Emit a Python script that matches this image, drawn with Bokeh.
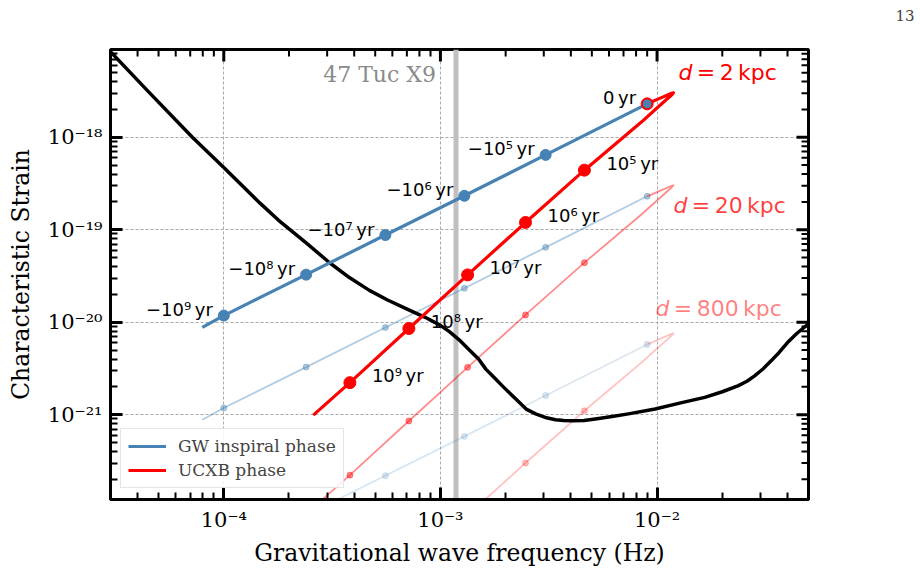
import numpy as np
from bokeh.plotting import figure
from bokeh.models import FixedTicker, CustomJSTickFormatter, Legend, LegendItem, Span
from bokeh.core.properties import value
from bokeh.embed import file_html
from bokeh.resources import INLINE

# ---------------------------------------------------------------------------
# Data
# ---------------------------------------------------------------------------
# Detector sensitivity curve: characteristic strain vs GW frequency (Hz)
sens_freq = [2.8e-5, 3.0e-5, 4.5e-5, 7.16e-5, 1.0e-4, 1.47e-4, 1.78e-4, 2.4e-4,
             3.09e-4, 3.8e-4, 4.7e-4, 5.7e-4, 6.9e-4, 8.5e-4, 1.0e-3, 1.1e-3,
             1.22e-3, 1.36e-3, 1.5e-3, 1.62e-3, 1.77e-3, 1.93e-3, 2.12e-3, 2.31e-3,
             2.5e-3, 2.75e-3, 3.05e-3, 3.4e-3, 3.7e-3, 4.05e-3, 4.6e-3, 5.19e-3,
             6.2e-3, 7.38e-3, 9.8e-3, 1.3e-2, 1.66e-2, 2.0e-2, 2.36e-2, 2.6e-2,
             2.82e-2, 3.08e-2, 3.36e-2, 3.66e-2, 4.0e-2, 4.4e-2, 4.86e-2, 5.2e-2]
sens_strain = [9.9e-18, 8.4e-18, 3.1e-18, 1.0e-18, 4.7e-19, 1.94e-19, 1.28e-19, 7.2e-20,
               4.37e-20, 3.04e-20, 2.21e-20, 1.74e-20, 1.41e-20, 1.13e-20, 9.25e-21, 7.9e-21,
               6.45e-21, 5.0e-21, 4.0e-21, 3.11e-21, 2.52e-21, 2.05e-21, 1.65e-21, 1.36e-21,
               1.14e-21, 1.02e-21, 9.33e-22, 8.83e-22, 8.65e-22, 8.6e-22, 8.67e-22, 9.0e-22,
               9.55e-22, 1.02e-21, 1.15e-21, 1.35e-21, 1.54e-21, 1.77e-21, 2.05e-21, 2.3e-21,
               2.63e-21, 3.12e-21, 3.82e-21, 4.71e-21, 6.03e-21, 7.5e-21, 9.1e-21, 1.04e-20]

# GW-driven inspiral track at d = 2 kpc
inspiral_freq = [7.96e-5, 1.0e-4, 2.4e-4, 5.57e-4, 1.29e-3, 3.06e-3, 9.0e-3]
inspiral_strain = [8.8e-21, 1.18e-20, 3.27e-20, 8.77e-20, 2.33e-19, 6.45e-19, 2.3e-18]
inspiral_age_freq = [1.0e-4, 2.4e-4, 5.57e-4, 1.29e-3, 3.06e-3, 9.0e-3]
inspiral_age_strain = [1.18e-20, 3.27e-20, 8.77e-20, 2.33e-19, 6.45e-19, 2.3e-18]
inspiral_age_labels = ["\u221210\u2079\u2009yr", "\u221210\u2078\u2009yr", "\u221210\u2077\u2009yr",
                       "\u221210\u2076\u2009yr", "\u221210\u2075\u2009yr", "0\u2009yr"]

# UCXB (mass-transfer) track at d = 2 kpc
ucxb_freq = [9.0e-3, 1.035e-2, 1.16e-2, 1.19e-2, 1.17e-2, 1.014e-2, 8.49e-3,
             4.62e-3, 2.47e-3, 1.335e-3, 7.15e-4, 3.82e-4, 2.59e-4]
ucxb_strain = [2.3e-18, 2.65e-18, 2.97e-18, 3.03e-18, 2.88e-18, 2.14e-18, 1.47e-18,
               4.41e-19, 1.2e-19, 3.25e-20, 8.55e-21, 2.22e-21, 9.9e-22]
ucxb_age_freq = [4.62e-3, 2.47e-3, 1.335e-3, 7.15e-4, 3.82e-4]
ucxb_age_strain = [4.41e-19, 1.2e-19, 3.25e-20, 8.55e-21, 2.22e-21]
ucxb_age_labels = ["10\u2075\u2009yr", "10\u2076\u2009yr", "10\u2077\u2009yr",
                   "10\u2078\u2009yr", "10\u2079\u2009yr"]

# Source distances (kpc); strain scales as 1/d
distances_kpc = [2, 20, 800]
distance_labels = ["\u2009=\u20092\u2009kpc", "\u2009=\u200920\u2009kpc", "\u2009=\u2009800\u2009kpc"]

# GW frequency of 47 Tuc X9 (Hz)
x9_freq = 1.18e-3

# Axis ticks
x_major = [1e-4, 1e-3, 1e-2]
y_major = [1e-21, 1e-20, 1e-19, 1e-18]
x_minor = [k * 10.0 ** d for d in range(-5, -1) for k in range(2, 10)]
y_minor = [k * 10.0 ** d for d in range(-23, -17) for k in range(2, 10)]

# ---------------------------------------------------------------------------
# Figure
# ---------------------------------------------------------------------------
SERIF = "DejaVu Serif"
SANS = "DejaVu Sans"
BLUE = "#4682b4"
RED = "#ff0000"

x_lo, x_hi = 3.0e-5, 5.0e-2
y_lo, y_hi = 1.21e-22, 8.9e-18

p = figure(width=920, height=569, x_axis_type="log", y_axis_type="log",
           x_range=(x_lo, x_hi), y_range=(y_lo, y_hi),
           output_backend="svg", toolbar_location=None,
           min_border_left=110, min_border_right=112,
           min_border_top=49, min_border_bottom=68)
p.outline_line_color = "black"
p.outline_line_width = 3
p.background_fill_color = "white"
p.border_fill_color = "white"

# page number: right-aligned title pushed past the frame edge; the second
# (empty) line lifts it to the top of the page
p.title.text = "13\n"
p.title.align = "right"
p.title.offset = -106
p.title.text_font = SERIF
p.title.text_font_size = "15px"
p.title.text_font_style = "normal"
p.title.vertical_align = "top"
p.title.standoff = 10

x_ticker = FixedTicker(ticks=x_major, minor_ticks=x_minor)
y_ticker = FixedTicker(ticks=y_major, minor_ticks=y_minor)

pow_fmt = CustomJSTickFormatter(code="""
const sup = {"-": "\u207b", "0": "\u2070", "1": "\u00b9", "2": "\u00b2", "3": "\u00b3",
             "4": "\u2074", "5": "\u2075", "6": "\u2076", "7": "\u2077", "8": "\u2078", "9": "\u2079"};
const e = Math.round(Math.log10(tick));
return "10" + String(e).split("").map(c => sup[c]).join("");
""")

p.xaxis.ticker = x_ticker
p.yaxis.ticker = y_ticker
for ax in (p.xaxis[0], p.yaxis[0]):
    ax.axis_line_width = 3
    ax.axis_line_color = "black"
    ax.major_tick_in = 12
    ax.major_tick_out = 0
    ax.minor_tick_in = 7
    ax.minor_tick_out = 0
    ax.major_tick_line_width = 3
    ax.minor_tick_line_width = 2
    ax.major_tick_line_color = "black"
    ax.minor_tick_line_color = "black"
    ax.formatter = pow_fmt
    ax.major_label_text_font = SERIF
    ax.major_label_text_font_size = "21px"
    ax.major_label_text_color = "black"
    ax.major_label_standoff = 8
    ax.axis_label_text_font = SERIF
    ax.axis_label_text_font_size = "23.5px"
    ax.axis_label_text_font_style = "normal"
    ax.axis_label_text_color = "black"

p.xaxis[0].axis_label = "Gravitational wave frequency (Hz)"
p.xaxis[0].axis_label_standoff = 4
p.yaxis[0].axis_label = "Characteristic Strain"
p.yaxis[0].axis_label_standoff = 10

p.xgrid.ticker = x_ticker
p.ygrid.ticker = y_ticker
for g in (p.xgrid, p.ygrid):
    g.grid_line_color = "#a8a8a8"
    g.grid_line_dash = "3 2"
    g.grid_line_width = 1

# Inward ticks along the top and right frame edges (outer half clipped by the frame)
p.scatter(x_major, [y_hi] * len(x_major), marker="dash", angle=np.pi / 2, size=24,
          line_color="black", line_width=3)
p.scatter(x_minor, [y_hi] * len(x_minor), marker="dash", angle=np.pi / 2, size=14,
          line_color="black", line_width=2)
p.scatter([x_hi] * len(y_major), y_major, marker="dash", size=24,
          line_color="black", line_width=3)
p.scatter([x_hi] * len(y_minor), y_minor, marker="dash", size=14,
          line_color="black", line_width=2)

# Vertical band marking 47 Tuc X9
p.add_layout(Span(location=x9_freq, dimension="height", line_color="#c0c0c0",
                  line_width=5, level="underlay"))
p.text(x=[x9_freq], y=[y_hi], text=["47 Tuc X9"], x_offset=-20, y_offset=25,
       text_align="right", text_baseline="middle", text_color="#8a8a8a",
       text_font=value(SERIF), text_font_size="22px")

# Distance-scaled copies (faint) drawn first
faint_alpha = {20: (0.42, 0.45), 800: (0.2, 0.24)}
for d in distances_kpc[1:]:
    s = distances_kpc[0] / d
    a_blue, a_red = faint_alpha[d]
    p.line(inspiral_freq, np.array(inspiral_strain) * s, line_color=BLUE,
           line_alpha=a_blue, line_width=1.8)
    p.scatter(inspiral_age_freq, np.array(inspiral_age_strain) * s, size=6,
              color=BLUE, alpha=a_blue)
    p.line(ucxb_freq, np.array(ucxb_strain) * s, line_color=RED,
           line_alpha=a_red, line_width=1.8, line_join="round")
    p.scatter(ucxb_age_freq, np.array(ucxb_age_strain) * s, size=6,
              color=RED, alpha=a_red)

# Sensitivity curve
p.line(sens_freq, sens_strain, line_color="black", line_width=3.5, line_join="round")

# Main tracks at 2 kpc
blue_line = p.line(inspiral_freq, inspiral_strain, line_color=BLUE, line_width=3.2)
p.scatter(inspiral_age_freq[:-1], inspiral_age_strain[:-1], size=11, color=BLUE)
red_line = p.line(ucxb_freq, ucxb_strain, line_color=RED, line_width=3.2,
                  line_join="round")
p.scatter(ucxb_age_freq, ucxb_age_strain, size=12, color=RED)
p.scatter(inspiral_age_freq[-1:], inspiral_age_strain[-1:], size=12, color=RED)
p.scatter(inspiral_age_freq[-1:], inspiral_age_strain[-1:], size=8, color=BLUE)

# Age annotations
p.text(x=inspiral_age_freq, y=inspiral_age_strain, text=inspiral_age_labels,
       x_offset=-11, y_offset=-6, text_align="right", text_baseline="middle",
       text_font=value(SANS), text_font_size="18px", text_color="black")
p.text(x=ucxb_age_freq, y=ucxb_age_strain, text=ucxb_age_labels,
       x_offset=22, y_offset=-7, text_align="left", text_baseline="middle",
       text_font=value(SANS), text_font_size="18px", text_color="black")

# Distance annotations anchored at the loop tip of each track
tip_f = max(ucxb_freq)
tip_h = ucxb_strain[ucxb_freq.index(tip_f)]
dist_offsets = [(5, -20), (0, 20), (-18, -25)]
dist_alpha = [1.0, 0.75, 0.5]
for d, lab, (dx, dy), a in zip(distances_kpc, distance_labels, dist_offsets, dist_alpha):
    h = tip_h * distances_kpc[0] / d
    p.text(x=[tip_f], y=[h], text=["d"], x_offset=dx, y_offset=dy,
           text_align="left", text_baseline="middle", text_color=RED, text_alpha=a,
           text_font=value(SANS), text_font_size="22px", text_font_style="italic")
    p.text(x=[tip_f], y=[h], text=[lab], x_offset=dx + 14, y_offset=dy,
           text_align="left", text_baseline="middle", text_color=RED, text_alpha=a,
           text_font=value(SANS), text_font_size="22px")

legend = Legend(items=[LegendItem(label="GW inspiral phase", renderers=[blue_line]),
                       LegendItem(label="UCXB phase", renderers=[red_line])],
                location=(10, 11), label_text_font=SERIF, label_text_font_size="17px",
                glyph_width=38, glyph_height=18, label_height=18, label_standoff=12,
                padding=7, spacing=4, margin=0, border_line_color="#cccccc",
                border_line_width=1, background_fill_alpha=0.85)
p.add_layout(legend)

open("out.html", "w", encoding="utf-8").write(file_html(p, INLINE))
